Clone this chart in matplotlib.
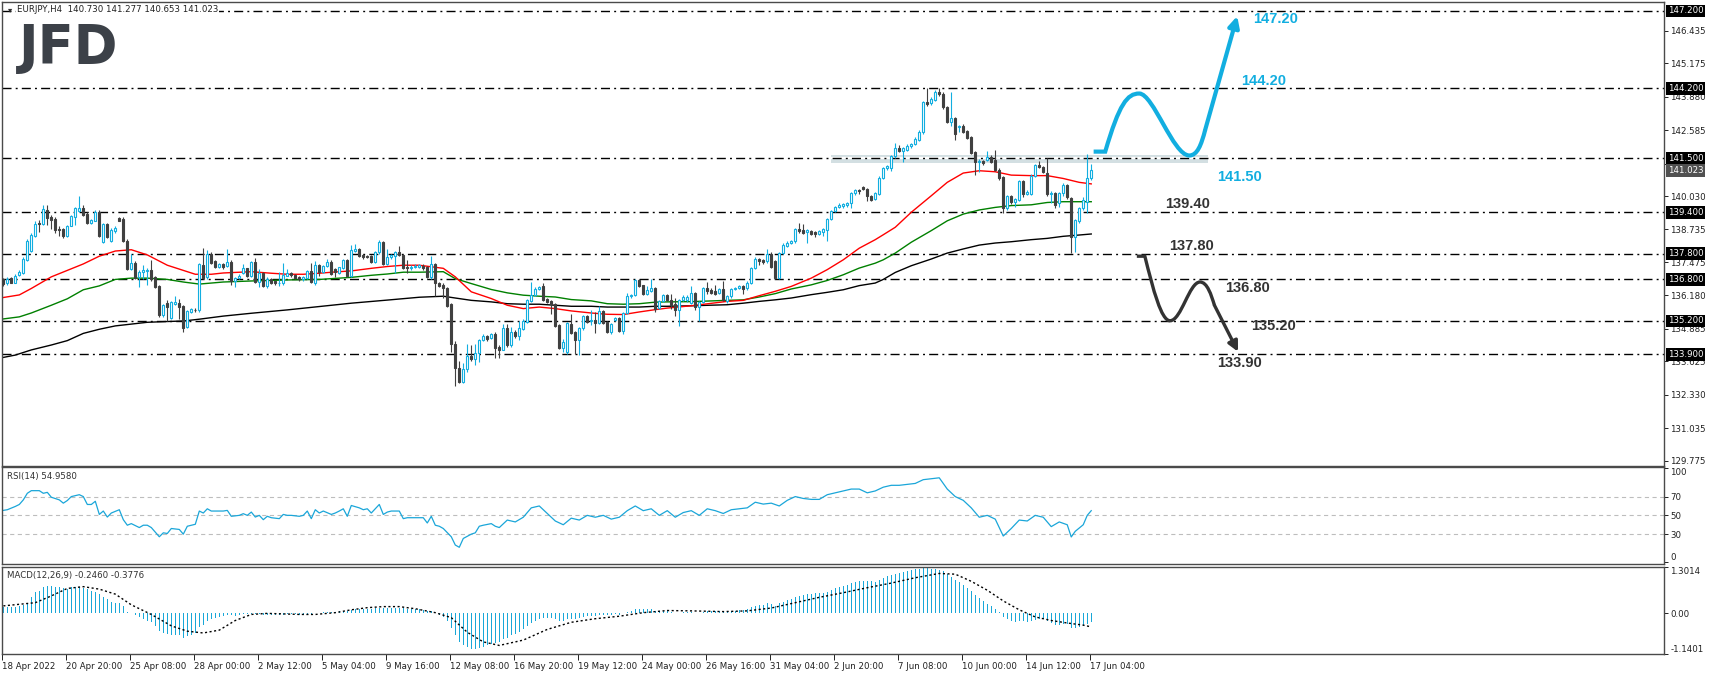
import matplotlib
matplotlib.use("Agg")
import matplotlib.pyplot as plt
from matplotlib.path import Path
from matplotlib.patches import PathPatch, FancyArrowPatch

plt.rcParams['font.family'] = ['DejaVu Sans']
plt.rcParams['lines.scale_dashes'] = False

# ---------------- data (EURJPY H4, bar index 0 = 18 Apr 2022 00:00) ----------------
opens = [
    136.80, 136.68, 136.85, 136.68, 136.98, 137.05, 137.55, 137.90, 138.48, 138.98,
    138.95, 139.50, 139.20, 139.13, 138.76, 138.74, 138.50, 138.87, 139.23, 139.45,
    139.56, 139.33, 139.00, 139.08, 139.43, 138.26, 138.95, 138.30, 138.66, 139.17,
    139.13, 138.30, 137.20, 137.42, 136.88, 137.10, 137.12, 137.17, 136.90, 136.55,
    135.42, 135.88, 135.30, 135.86, 135.90, 135.77, 134.95, 135.55, 135.62, 135.60,
    137.36, 136.88, 137.79, 137.50, 137.30, 137.38, 137.32, 137.48, 136.74, 136.84,
    137.04, 137.23, 136.93, 137.49, 136.71, 137.04, 136.55, 136.81, 136.74, 136.66,
    136.65, 136.95, 137.06, 136.97, 136.90, 136.80, 136.85, 137.13, 136.68, 137.36,
    137.10, 137.32, 137.49, 137.20, 137.06, 137.23, 137.55, 136.93, 137.92, 137.97,
    137.74, 137.72, 137.71, 137.49, 137.85, 138.25, 137.40, 137.66, 137.71, 137.85,
    137.75, 137.29, 137.23, 137.29, 137.29, 137.33, 137.29, 136.88, 137.39, 136.65,
    136.60, 136.48, 135.84, 134.31, 133.38, 132.83, 133.35, 133.85, 133.73, 133.95,
    134.44, 134.60, 134.55, 134.68, 134.18, 134.08, 134.93, 134.25, 134.77, 134.60,
    134.88, 135.15, 135.97, 136.19, 136.41, 136.53, 136.06, 135.95, 135.84, 135.02,
    134.16, 133.99, 135.09, 134.77, 134.44, 134.90, 135.37, 135.18, 135.22, 135.12,
    135.57, 135.15, 134.77, 135.22, 135.32, 134.80, 135.50, 136.14, 136.19, 136.77,
    136.57, 136.25, 136.36, 136.48, 135.71, 135.97, 136.21, 136.01, 135.86, 135.60,
    136.01, 135.99, 135.88, 136.27, 135.75, 135.91, 136.47, 136.40, 136.36, 136.27,
    136.43, 135.95, 136.14, 136.43, 136.45, 136.53, 136.45, 136.68, 137.24, 137.59,
    137.54, 137.50, 137.80, 137.50, 136.85, 137.82, 138.10, 138.21, 138.27, 138.75,
    138.70, 138.65, 138.66, 138.62, 138.57, 138.62, 138.73, 139.14, 139.44, 139.60,
    139.63, 139.69, 139.76, 140.14, 140.27, 140.38, 140.30, 140.04, 139.91, 140.12,
    140.73, 141.10, 141.10, 141.57, 141.88, 141.79, 141.82, 141.95, 142.04, 142.21,
    142.50, 143.66, 143.63, 143.76, 144.07, 143.99, 143.46, 142.91, 143.04, 142.69,
    142.75, 142.56, 142.30, 141.72, 141.36, 141.39, 141.44, 141.53, 141.44, 141.05,
    140.75, 139.55, 140.02, 139.78, 139.89, 140.62, 140.11, 140.11, 140.82, 141.23,
    141.14, 140.92, 140.11, 140.14, 139.75, 140.14, 140.46, 139.94, 138.46, 139.08,
    139.55, 139.81, 140.73,
]
closes = [
    136.62, 136.82, 136.68, 136.95, 137.10, 137.60, 138.28, 138.52, 138.95, 138.93,
    139.52, 139.17, 139.12, 138.72, 138.72, 138.48, 138.87, 139.26, 139.58, 139.56,
    139.30, 139.00, 139.10, 139.43, 138.48, 138.95, 138.46, 138.72, 138.78, 139.08,
    138.30, 137.20, 137.42, 136.84, 137.10, 137.17, 137.18, 136.81, 136.52, 135.42,
    135.81, 135.75, 135.91, 135.92, 135.72, 134.93, 135.58, 135.64, 135.60, 137.39,
    136.84, 137.79, 137.45, 137.30, 137.38, 137.30, 137.49, 136.74, 136.84, 136.93,
    137.23, 136.93, 137.49, 136.71, 137.06, 136.55, 136.81, 136.68, 136.65, 136.68,
    136.97, 137.06, 136.96, 136.84, 136.80, 136.88, 137.13, 136.71, 137.36, 137.10,
    137.32, 137.49, 137.01, 137.10, 137.27, 137.55, 136.93, 137.94, 137.97, 137.71,
    137.66, 137.68, 137.49, 137.85, 138.25, 137.40, 137.68, 137.75, 137.85, 137.75,
    137.26, 137.23, 137.30, 137.33, 137.35, 137.23, 136.88, 137.39, 136.65, 136.55,
    136.45, 135.76, 134.31, 133.38, 132.83, 133.35, 133.85, 133.72, 133.95, 134.47,
    134.60, 134.50, 134.68, 134.16, 134.08, 134.93, 134.25, 134.77, 134.60, 134.90,
    135.19, 135.99, 136.19, 136.44, 136.51, 135.99, 135.93, 135.84, 134.99, 134.16,
    134.38, 135.11, 134.73, 134.44, 134.90, 135.37, 135.15, 135.22, 135.12, 135.57,
    135.12, 134.77, 135.06, 135.32, 134.80, 135.50, 136.15, 136.19, 136.77, 136.53,
    136.22, 136.38, 136.48, 135.67, 135.97, 136.19, 135.99, 135.82, 135.60, 135.99,
    136.12, 136.12, 136.27, 135.75, 135.91, 136.47, 136.34, 136.27, 136.25, 136.43,
    135.99, 136.14, 136.43, 136.45, 136.53, 136.43, 136.68, 137.24, 137.59, 137.50,
    137.46, 137.80, 137.30, 136.85, 137.82, 138.14, 138.23, 138.30, 138.75, 138.66,
    138.60, 138.70, 138.57, 138.57, 138.66, 138.75, 139.14, 139.44, 139.60, 139.68,
    139.72, 139.76, 140.14, 140.27, 140.21, 140.30, 140.02, 139.89, 140.14, 140.73,
    141.11, 141.18, 141.57, 141.88, 141.79, 141.88, 141.98, 142.04, 142.24, 142.52,
    143.66, 143.59, 143.79, 144.07, 143.97, 143.46, 142.91, 143.04, 142.43, 142.73,
    142.52, 142.26, 141.70, 141.36, 141.40, 141.31, 141.53, 141.36, 141.05, 140.71,
    139.55, 140.02, 139.78, 139.91, 140.62, 140.11, 140.20, 140.82, 141.23, 141.14,
    140.97, 140.11, 140.16, 139.68, 140.14, 140.46, 140.00, 138.46, 139.10, 139.55,
    139.88, 140.72, 141.02,
]
highs = [
    136.85, 136.88, 136.90, 137.00, 137.15, 137.65, 138.35, 138.60, 139.05, 139.10,
    139.70, 139.70, 139.28, 139.20, 138.85, 138.80, 138.90, 139.30, 139.62, 140.02,
    139.70, 139.40, 139.15, 139.50, 139.48, 139.00, 139.00, 138.78, 138.85, 139.20,
    139.20, 138.35, 137.80, 137.50, 137.15, 137.35, 137.25, 137.55, 136.95, 136.60,
    135.85, 136.00, 135.95, 136.15, 136.03, 135.80, 135.62, 135.70, 135.70, 137.45,
    138.00, 137.95, 137.85, 137.55, 137.45, 137.42, 137.97, 137.55, 136.90, 137.00,
    137.40, 137.25, 137.52, 137.62, 137.19, 137.10, 136.88, 136.85, 136.78, 137.10,
    137.43, 137.20, 137.10, 137.02, 136.95, 136.95, 137.18, 137.43, 137.50, 137.40,
    137.36, 137.58, 137.55, 137.25, 137.30, 137.60, 137.60, 138.13, 138.17, 138.00,
    137.80, 137.75, 137.75, 137.90, 138.33, 138.30, 137.97, 137.80, 137.90, 138.10,
    137.80, 137.55, 137.35, 137.40, 137.40, 137.38, 137.33, 137.71, 137.45, 136.70,
    136.68, 136.50, 135.90, 134.40, 133.65, 133.55, 134.29, 134.25, 134.31, 134.50,
    134.70, 134.65, 134.73, 134.75, 134.25, 135.06, 135.06, 134.96, 134.86, 135.19,
    135.28, 136.05, 136.70, 136.50, 136.55, 136.67, 136.10, 136.00, 135.88, 135.06,
    134.51, 135.16, 135.46, 134.80, 134.95, 135.42, 135.42, 135.60, 135.52, 135.77,
    135.62, 135.20, 135.10, 135.36, 135.36, 135.55, 136.28, 136.25, 136.82, 136.82,
    136.60, 136.54, 136.80, 136.52, 136.02, 136.25, 136.25, 136.23, 136.08, 136.05,
    136.18, 136.21, 136.55, 136.30, 135.95, 136.52, 136.69, 136.45, 136.60, 136.47,
    136.72, 136.20, 136.47, 136.50, 136.57, 136.57, 136.72, 137.28, 137.65, 137.63,
    137.58, 137.98, 137.85, 137.55, 137.87, 138.20, 138.27, 138.34, 138.80, 138.99,
    138.93, 138.75, 138.70, 138.68, 138.72, 138.80, 139.18, 139.48, 139.66, 139.75,
    139.76, 139.80, 140.20, 140.30, 140.32, 140.42, 140.33, 140.07, 140.18, 140.82,
    141.15, 141.22, 141.62, 142.08, 142.00, 141.92, 142.05, 142.10, 142.30, 142.60,
    143.72, 144.20, 143.85, 144.12, 144.20, 144.05, 143.50, 144.07, 143.08, 142.80,
    142.82, 142.60, 142.35, 141.76, 141.46, 141.43, 141.76, 141.60, 141.80, 141.10,
    140.80, 140.07, 140.06, 139.95, 140.67, 140.66, 140.28, 140.87, 141.28, 141.40,
    141.20, 141.49, 140.22, 140.20, 140.20, 140.55, 140.50, 139.98, 139.15, 139.60,
    140.00, 141.66, 141.28,
]
lows = [
    136.55, 136.58, 136.65, 136.65, 136.95, 137.00, 137.50, 137.85, 138.45, 138.65,
    138.90, 138.90, 138.75, 138.58, 138.50, 138.42, 138.45, 138.85, 138.90, 139.40,
    139.25, 138.95, 138.95, 139.05, 138.45, 138.20, 138.40, 138.25, 138.60, 139.05,
    138.25, 137.15, 137.15, 136.80, 136.50, 136.80, 136.60, 136.75, 136.45, 135.35,
    135.35, 135.20, 135.25, 135.80, 135.28, 134.78, 134.90, 135.50, 135.55, 135.55,
    136.80, 136.80, 137.40, 137.25, 137.25, 137.20, 137.28, 136.60, 136.50, 136.80,
    137.00, 136.88, 136.90, 136.68, 136.52, 136.50, 136.48, 136.62, 136.60, 136.53,
    136.60, 136.92, 136.90, 136.80, 136.75, 136.75, 136.80, 136.68, 136.60, 136.95,
    137.05, 137.28, 136.96, 136.90, 137.00, 137.20, 136.90, 136.88, 137.85, 137.65,
    137.60, 137.62, 137.45, 137.45, 137.80, 137.35, 137.35, 137.60, 137.06, 137.70,
    137.22, 137.05, 137.15, 137.25, 137.25, 137.18, 136.84, 136.82, 136.14, 136.50,
    136.10, 135.72, 133.99, 132.67, 132.79, 132.78, 133.20, 133.65, 133.48, 133.60,
    134.40, 134.42, 134.50, 133.75, 133.75, 134.05, 134.20, 134.20, 134.55, 134.47,
    134.85, 135.10, 135.93, 136.15, 136.38, 135.95, 135.88, 135.45, 134.95, 134.12,
    134.00, 133.90, 134.68, 133.90, 133.88, 134.85, 135.10, 135.03, 134.74, 135.08,
    135.08, 134.72, 134.70, 135.18, 134.76, 134.67, 135.45, 136.10, 136.15, 136.50,
    136.18, 136.20, 136.32, 135.54, 135.66, 135.93, 135.95, 135.65, 135.39, 134.98,
    135.96, 135.91, 135.84, 135.62, 135.20, 135.87, 136.25, 136.22, 136.20, 136.23,
    135.95, 135.90, 136.10, 136.40, 136.42, 136.25, 136.40, 136.64, 137.20, 137.35,
    137.40, 137.45, 137.25, 136.80, 136.80, 137.78, 138.05, 138.18, 138.22, 138.60,
    138.55, 138.20, 138.52, 138.45, 138.52, 138.50, 138.30, 139.10, 139.40, 139.55,
    139.58, 139.60, 139.58, 140.08, 140.10, 140.26, 139.85, 139.82, 139.87, 140.08,
    140.68, 141.05, 141.00, 141.52, 141.75, 141.35, 141.78, 141.90, 142.00, 142.17,
    142.45, 143.50, 143.55, 143.70, 143.92, 143.40, 142.85, 142.75, 142.20, 142.50,
    142.48, 142.22, 141.65, 140.86, 140.96, 141.25, 141.40, 141.30, 141.00, 140.66,
    139.39, 139.50, 139.73, 139.60, 139.85, 139.98, 140.06, 140.06, 140.78, 141.10,
    140.92, 140.05, 139.75, 139.57, 139.60, 140.05, 139.90, 137.81, 137.85, 139.00,
    139.50, 139.36, 140.65,
]

# moving averages, read at sampled bars
red_bar = [0, 4, 7, 12, 16, 20, 24, 28, 32, 36, 41, 45, 48, 52, 55, 62, 67, 71, 75, 79, 83, 87, 92, 96, 100, 104, 108,
           110, 113, 117, 122, 126, 130, 134, 138, 142, 147, 151, 155, 159, 163, 166, 172, 181, 185, 189, 193, 197,
           202, 206, 210, 214, 218, 220, 223, 227, 232, 236, 240, 244, 248, 252, 257, 261, 265, 269, 272]
red_val = [136.10, 136.20, 136.45, 136.90, 137.15, 137.40, 137.70, 137.90, 137.95, 137.75, 137.35, 137.15, 137.00,
           137.00, 137.05, 137.10, 137.04, 137.00, 137.00, 137.04, 137.09, 137.13, 137.23, 137.30, 137.35, 137.35, 137.27,
           137.23, 136.90, 136.32, 136.06, 135.80, 135.67, 135.73, 135.67, 135.58, 135.50, 135.45, 135.44, 135.54, 135.63,
           135.69, 135.78, 135.95, 135.99, 136.17, 136.34, 136.53, 136.85, 137.18, 137.56, 138.01, 138.34, 138.53,
           138.82, 139.40, 140.04, 140.56, 140.92, 141.01, 140.97, 140.84, 140.82, 140.82, 140.71, 140.56, 140.50]
green_bar = [0, 4, 7, 12, 16, 20, 24, 28, 32, 36, 41, 45, 49, 55, 62, 71, 79, 83, 87, 92, 96, 100, 104, 110, 113, 117,
             122, 126, 130, 134, 138, 142, 147, 151, 155, 159, 163, 166, 172, 181, 185, 189, 193, 197, 202, 206, 210,
             214, 218, 220, 223, 227, 232, 236, 240, 244, 248, 252, 257, 261, 265, 269, 272]
green_val = [135.27, 135.35, 135.50, 135.80, 136.05, 136.40, 136.55, 136.80, 136.85, 136.85, 136.80, 136.70, 136.62,
             136.70, 136.74, 136.78, 136.80, 136.84, 136.88, 136.96, 137.01, 137.08, 137.08, 137.10, 136.83, 136.64,
             136.41, 136.28, 136.19, 136.15, 136.12, 136.02, 135.97, 135.86, 135.84, 135.86, 135.92, 135.93, 135.94,
             135.99, 136.01, 136.12, 136.25, 136.43, 136.59, 136.76, 136.98, 137.24, 137.43, 137.56, 137.82, 138.24,
             138.69, 139.07, 139.33, 139.49, 139.59, 139.66, 139.69, 139.78, 139.81, 139.81, 139.81]
black_bar = [0, 3, 7, 12, 16, 20, 24, 28, 32, 36, 41, 45, 49, 55, 62, 71, 79, 87, 96, 104, 110, 113, 117, 122, 126,
             130, 134, 138, 142, 147, 151, 155, 159, 163, 166, 172, 181, 185, 189, 193, 197, 202, 206, 210, 214, 218,
             220, 223, 227, 232, 236, 240, 244, 248, 252, 257, 261, 265, 269, 272]
black_val = [133.78, 133.87, 134.07, 134.26, 134.43, 134.71, 134.87, 135.00, 135.07, 135.14, 135.17, 135.19, 135.26,
             135.38, 135.49, 135.62, 135.75, 135.88, 136.00, 136.11, 136.15, 136.08, 135.99, 135.93, 135.86, 135.84,
             135.84, 135.80, 135.76, 135.76, 135.73, 135.73, 135.73, 135.76, 135.76, 135.78, 135.82, 135.88, 135.95,
             136.01, 136.08, 136.21, 136.30, 136.40, 136.56, 136.66, 136.80, 137.07, 137.33, 137.59, 137.82, 137.98,
             138.13, 138.21, 138.26, 138.34, 138.39, 138.47, 138.52, 138.56]

# RSI(14), sampled
rsi_bar = [0, 1, 3, 4, 5, 6, 7, 9, 10, 11, 12, 14, 15, 16, 17, 19, 20, 21, 22, 23, 24, 25, 26, 27, 29, 30, 31, 32, 34,
           35, 36, 37, 39, 40, 41, 42, 44, 45, 46, 47, 48, 49, 50, 51, 52, 54, 55, 56, 57, 59, 60, 61, 62, 63, 64, 65,
           66, 67, 69, 70, 71, 72, 74, 75, 76, 77, 78, 79, 80, 82, 83, 84, 85, 86, 87, 89, 90, 91, 92, 94, 95, 96, 97,
           99, 100, 101, 102, 104, 105, 106, 107, 108, 109, 110, 112, 113, 114, 115, 117, 118, 119, 120, 122, 123, 124,
           126, 128, 130, 132, 134, 136, 138, 140, 142, 144, 146, 148, 150, 152, 154, 156, 158, 160, 162, 164, 166,
           168, 170, 172, 174, 176, 178, 180, 182, 184, 186, 188, 190, 192, 194, 196, 198, 200, 202, 204, 206, 208,
           210, 212, 214, 216, 218, 220, 222, 224, 226, 228, 230, 232, 234, 236, 238, 240, 242, 244, 246, 248, 250,
           252, 254, 256, 258, 260, 262, 264, 266, 267, 268, 270, 271, 272]
rsi_val = [55.3, 56.0, 59.5, 61.6, 66.5, 73.5, 76.3, 76.3, 73.5, 74.5, 69.3, 66.5, 63.0, 65.8, 70.0, 72.0, 70.0, 61.6,
           61.6, 65.0, 51.0, 54.6, 48.2, 52.5, 56.0, 45.4, 39.5, 41.2, 37.0, 39.5, 39.5, 37.0, 27.2, 31.4, 30.7, 36.0,
           35.0, 30.0, 38.4, 39.5, 40.5, 54.6, 52.5, 57.0, 54.6, 54.6, 54.6, 55.3, 49.0, 50.0, 51.8, 50.0, 53.5, 48.2,
           50.0, 45.4, 49.0, 47.5, 46.5, 51.0, 50.0, 50.0, 49.0, 50.0, 54.6, 46.5, 56.0, 52.5, 54.6, 51.0, 52.5, 54.6,
           57.0, 49.0, 60.5, 58.0, 56.0, 57.0, 52.5, 61.6, 51.0, 53.5, 54.6, 54.6, 46.5, 47.5, 47.5, 47.5, 47.5, 41.9,
           49.0, 39.5, 38.4, 36.0, 27.2, 18.4, 16.0, 25.4, 30.0, 31.4, 38.4, 39.5, 41.2, 38.4, 37.0,
           45, 43, 48, 58, 60, 52, 44, 40, 47, 45, 50, 48, 50, 46, 48, 55, 60, 55, 57, 50, 55, 48, 53, 55, 50, 57,
           55, 52, 56, 57, 58, 64, 62, 63, 60, 66, 70, 68, 67, 67, 72, 74, 76, 78, 78, 74, 76, 80, 82, 82, 83, 84,
           88, 89, 90, 78, 70, 66, 58, 48, 50, 46, 28, 36, 45, 44, 50, 48, 38, 43, 40, 27, 33, 40, 50, 55]

# MACD(12,26,9) main (histogram), one value per bar
macd_hist = [
    0.19, 0.19, 0.19, 0.19, 0.20, 0.24, 0.30, 0.46, 0.60, 0.64,
    0.75, 0.78, 0.78, 0.75, 0.73, 0.72, 0.68, 0.73, 0.73, 0.73,
    0.72, 0.68, 0.64, 0.60, 0.54, 0.46, 0.41, 0.32, 0.30, 0.30,
    0.21, 0.05, 0.00, -0.05, -0.10, -0.15, -0.20, -0.25, -0.35, -0.50,
    -0.55, -0.58, -0.60, -0.60, -0.62, -0.68, -0.64, -0.60, -0.55, -0.38,
    -0.32, -0.22, -0.17, -0.13, -0.10, -0.07, -0.04, -0.05, -0.06, -0.05,
    -0.03, -0.03, -0.01, -0.02, -0.03, -0.04, -0.04, -0.04, -0.05, -0.05,
    -0.04, -0.03, -0.03, -0.03, -0.04, -0.04, -0.02, -0.03, 0.00, 0.02,
    0.03, 0.04, 0.05, 0.05, 0.06, 0.08, 0.06, 0.10, 0.12, 0.12,
    0.12, 0.12, 0.13, 0.16, 0.15, 0.15, 0.16, 0.16, 0.16, 0.16,
    0.15, 0.13, 0.13, 0.12, 0.12, 0.10, 0.06, 0.06, 0.02, -0.05,
    -0.10, -0.20, -0.40, -0.60, -0.80, -0.90, -0.95, -1.00, -1.00, -0.98,
    -0.95, -0.90, -0.85, -0.82, -0.80, -0.72, -0.68, -0.62, -0.58, -0.52,
    -0.45, -0.35, -0.28, -0.20, -0.15, -0.14, -0.13, -0.13, -0.16, -0.20,
    -0.20, -0.17, -0.15, -0.15, -0.13, -0.10, -0.08, -0.07, -0.06, -0.04,
    -0.04, -0.05, -0.05, -0.03, -0.04, 0.00, 0.05, 0.08, 0.12, 0.13,
    0.12, 0.12, 0.13, 0.08, 0.07, 0.07, 0.07, 0.05, 0.02, 0.02,
    0.03, 0.04, 0.04, 0.02, 0.02, 0.05, 0.06, 0.06, 0.06, 0.07,
    0.05, 0.05, 0.07, 0.08, 0.09, 0.10, 0.13, 0.18, 0.22, 0.23,
    0.24, 0.28, 0.27, 0.22, 0.28, 0.33, 0.37, 0.41, 0.46, 0.49,
    0.51, 0.53, 0.55, 0.56, 0.57, 0.58, 0.61, 0.66, 0.71, 0.75,
    0.78, 0.80, 0.84, 0.88, 0.91, 0.92, 0.92, 0.90, 0.89, 0.95,
    1.00, 1.04, 1.07, 1.10, 1.13, 1.17, 1.19, 1.22, 1.24, 1.25,
    1.26, 1.27, 1.25, 1.24, 1.22, 1.18, 1.10, 1.02, 0.95, 0.88,
    0.80, 0.72, 0.62, 0.52, 0.42, 0.34, 0.27, 0.20, 0.12, 0.03,
    -0.10, -0.15, -0.20, -0.24, -0.20, -0.22, -0.25, -0.22, -0.18, -0.15,
    -0.16, -0.20, -0.28, -0.33, -0.32, -0.30, -0.30, -0.42, -0.42, -0.38,
    -0.36, -0.30, -0.25,
]
sig_bar = [0, 8, 12, 16, 20, 24, 28, 32, 37, 42, 46, 50, 54, 58, 62, 66, 74, 78, 83, 87, 91, 95, 99, 103, 108, 112,
           116, 120, 124, 130, 136, 142, 148, 154, 160, 166, 172, 180, 186, 192, 198, 204, 210, 216, 222, 228, 234,
           238, 242, 246, 250, 254, 258, 262, 266, 270, 272]
sig_val = [0.21, 0.30, 0.49, 0.70, 0.75, 0.68, 0.54, 0.24, -0.03, -0.35, -0.50, -0.55, -0.47, -0.20, -0.03, 0.00,
           -0.03, -0.03, 0.02, 0.10, 0.16, 0.19, 0.19, 0.13, 0.02, -0.12, -0.53, -0.80, -0.90, -0.75, -0.45, -0.25,
           -0.15, -0.08, 0.02, 0.08, 0.07, 0.05, 0.07, 0.15, 0.30, 0.45, 0.58, 0.72, 0.85, 1.00, 1.12, 1.10, 0.90,
           0.65, 0.35, 0.10, -0.10, -0.20, -0.27, -0.33, -0.38]

levels = [147.20, 144.20, 141.50, 139.40, 137.80, 136.80, 135.20, 133.90]
price_ticks = [146.435, 145.175, 143.880, 142.585, 141.290, 140.030, 138.735, 137.475, 136.180,
               134.885, 133.625, 132.330, 131.035, 129.775]
date_labels = ['18 Apr 2022', '20 Apr 20:00', '25 Apr 08:00', '28 Apr 00:00', '2 May 12:00', '5 May 04:00',
               '9 May 16:00', '12 May 08:00', '16 May 20:00', '19 May 12:00', '24 May 00:00', '26 May 16:00',
               '31 May 04:00', '2 Jun 20:00', '7 Jun 08:00', '10 Jun 00:00', '14 Jun 12:00', '17 Jun 04:00']

# scenario drawings (bar index, price)
up_path = [(272.6, 141.75), (275.5, 141.75), (279.0, 143.6), (281.0, 144.0), (284.0, 144.0),
           (287.5, 144.0), (292.5, 141.6), (296.5, 141.6), (298.5, 141.6), (299.5, 142.0), (300.5, 142.6)]
up_tip = (308.5, 147.0)
down_path = [(283.4, 137.7), (285.4, 137.7), (287.5, 136.4), (289.5, 135.2), (291.7, 135.2),
             (294.5, 135.2), (296.5, 136.7), (299.2, 136.7), (301.0, 136.7), (302.0, 136.2), (302.8, 135.8)]
down_tip = (308.7, 134.0)
up_labels = [('147.20', 312.5, 146.88), ('144.20', 309.5, 144.48), ('141.50', 303.5, 140.75)]
down_labels = [('139.40', 290.5, 139.72), ('137.80', 291.5, 138.08), ('136.80', 305.5, 136.45),
               ('135.20', 312.0, 135.0), ('133.90', 303.5, 133.58)]

# ---------------- drawing ----------------
CYAN = '#12aee0'
DARK = '#404040'
FS = 6.2
W, H = 1710, 674
fig = plt.figure(figsize=(W / 100, H / 100), dpi=100)


def rect(x0, y0, x1, y1):
    return [x0 / W, 1 - y1 / H, (x1 - x0) / W, (y1 - y0) / H]


ax = fig.add_axes(rect(2, 2, 1664, 466))
ax_rsi = fig.add_axes(rect(2, 467, 1664, 564), sharex=ax)
ax_macd = fig.add_axes(rect(2, 567, 1664, 654), sharex=ax)

for a in (ax, ax_rsi, ax_macd):
    for s in a.spines.values():
        s.set_color('#4a4a4a')
        s.set_linewidth(1.0)
    a.yaxis.tick_right()
    a.tick_params(axis='y', length=3, width=0.7, pad=1.5, labelsize=FS, colors='#202020')
    a.tick_params(axis='x', length=0, labelbottom=False)

ax.set_xlim(-0.33, 415.2)
ax.set_ylim(129.574, 147.545)

# price levels
ax.axhspan(141.31, 141.60, xmin=(206.9 + 0.33) / 415.53, xmax=(301.2 + 0.33) / 415.53,
           color='#d3dfe2', zorder=0.5, lw=0)
ax.hlines(141.5, 206.9, 301.2, color='white', lw=1.6, zorder=0.6)
for lv in levels:
    ax.axhline(lv, color='black', lw=1.0, dashes=(6.5, 3.0, 1.4, 3.0), zorder=1)

# moving averages
ax.plot(black_bar, black_val, color='black', lw=1.0, zorder=2)
ax.plot(green_bar, green_val, color='#008000', lw=1.0, zorder=2)
ax.plot(red_bar, red_val, color='#ff0000', lw=1.0, zorder=2)

# candles
for i, (o, h, l, c) in enumerate(zip(opens, highs, lows, closes)):
    col = CYAN if c >= o else DARK
    ax.vlines(i, l, h, color=col, lw=0.8, zorder=3)
    if c >= o:
        ax.bar(i, max(c - o, 0.01), bottom=o, width=0.45, facecolor='white', edgecolor=CYAN, lw=0.8, zorder=4)
    else:
        ax.bar(i, o - c, bottom=c, width=0.45, facecolor=DARK, edgecolor=DARK, lw=0.8, zorder=4)

# right price scale
ax.set_yticks(price_ticks)
ax.set_yticklabels([f'{v:.3f}' for v in price_ticks])
ytr = ax.get_yaxis_transform()
for lv in levels:
    ax.text(1.0022, lv, f'{lv:.3f}', transform=ytr, ha='left', va='center', fontsize=FS, color='white',
            bbox=dict(boxstyle='square,pad=0.2', fc='black', ec='none'), zorder=10, clip_on=False)
ax.text(1.0022, 141.023, '141.023', transform=ytr, ha='left', va='center', fontsize=FS, color='white',
        bbox=dict(boxstyle='square,pad=0.2', fc='#505050', ec='none'), zorder=10, clip_on=False)

# scenario arrows
codes = [Path.MOVETO, Path.LINETO, Path.CURVE4, Path.CURVE4, Path.CURVE4, Path.CURVE4, Path.CURVE4, Path.CURVE4,
         Path.CURVE4, Path.CURVE4, Path.CURVE4]
ax.add_patch(PathPatch(Path(up_path, codes), fc='none', ec=CYAN, lw=3.0, zorder=6, capstyle='butt'))
ax.add_patch(FancyArrowPatch(up_path[-1], up_tip, arrowstyle='-|>', mutation_scale=16, color=CYAN, lw=3.0,
                             shrinkA=0, shrinkB=0, zorder=6))
ax.add_patch(PathPatch(Path(down_path, codes), fc='none', ec='#333333', lw=2.4, zorder=6))
ax.add_patch(FancyArrowPatch(down_path[-1], down_tip, arrowstyle='-|>', mutation_scale=15, color='#333333', lw=2.4,
                             shrinkA=0, shrinkB=0, zorder=6))
for txt, x, y in up_labels:
    ax.text(x, y, txt, color=CYAN, fontsize=10.5, fontweight='bold', family='Liberation Sans',
            ha='left', va='center', zorder=7)
for txt, x, y in down_labels:
    ax.text(x, y, txt, color='#333333', fontsize=10.5, fontweight='bold', family='Liberation Sans',
            ha='left', va='center', zorder=7)

# header and logo
fig.text(8 / W, 1 - 10 / H, '\u25be', fontsize=6, color='#303030', va='center', ha='left')
fig.text(17 / W, 1 - 10 / H, 'EURJPY,H4  140.730 141.277 140.653 141.023', fontsize=FS, color='#202020',
         va='center', ha='left', bbox=dict(boxstyle='square,pad=0.1', fc='white', ec='none'), zorder=20)
fig.text(19 / W, 1 - 63 / H, 'JFD', fontsize=38, fontweight='bold', color='#3c4148', va='baseline', ha='left')

# RSI panel
ax_rsi.set_ylim(-1.8, 101.5)
for lv in (70, 50, 30):
    ax_rsi.axhline(lv, color='#bdbdbd', lw=0.8, dashes=(3, 2.5))
ax_rsi.plot(rsi_bar, rsi_val, color='#1aa6d9', lw=0.9)
ax_rsi.set_yticks([100, 70, 50, 30, 0])
ax_rsi.set_yticklabels(['100', '70', '50', '30', '0'])
tl = ax_rsi.get_yticklabels()
tl[0].set_va('top')
tl[-1].set_va('bottom')
ax_rsi.text(0.003, 0.95, 'RSI(14) 54.9580', transform=ax_rsi.transAxes, fontsize=FS, color='#303030', va='top')

# MACD panel
ax_macd.set_ylim(-1.1401, 1.3014)
ax_macd.bar(range(len(macd_hist)), macd_hist, width=0.35, color='#19a7d8', lw=0)
ax_macd.plot(sig_bar, sig_val, color='black', lw=1.0, dashes=(1.5, 1.8))
ax_macd.set_yticks([1.3014, 0.0, -1.1401])
ax_macd.set_yticklabels(['1.3014', '0.00', '-1.1401'])
tl = ax_macd.get_yticklabels()
tl[0].set_va('top')
tl[-1].set_va('bottom')
ax_macd.text(0.003, 0.95, 'MACD(12,26,9) -0.2460 -0.3776', transform=ax_macd.transAxes, fontsize=FS,
             color='#303030', va='top')

# date axis
ax_macd.set_xticks([16 * k - 0.25 for k in range(len(date_labels))])
ax_macd.set_xticklabels(date_labels)
ax_macd.tick_params(axis='x', length=4, width=0.7, pad=2, labelsize=FS, labelbottom=True, colors='#202020')
for lbl in ax_macd.get_xticklabels():
    lbl.set_ha('left')

fig.savefig('out.png', dpi=100)
